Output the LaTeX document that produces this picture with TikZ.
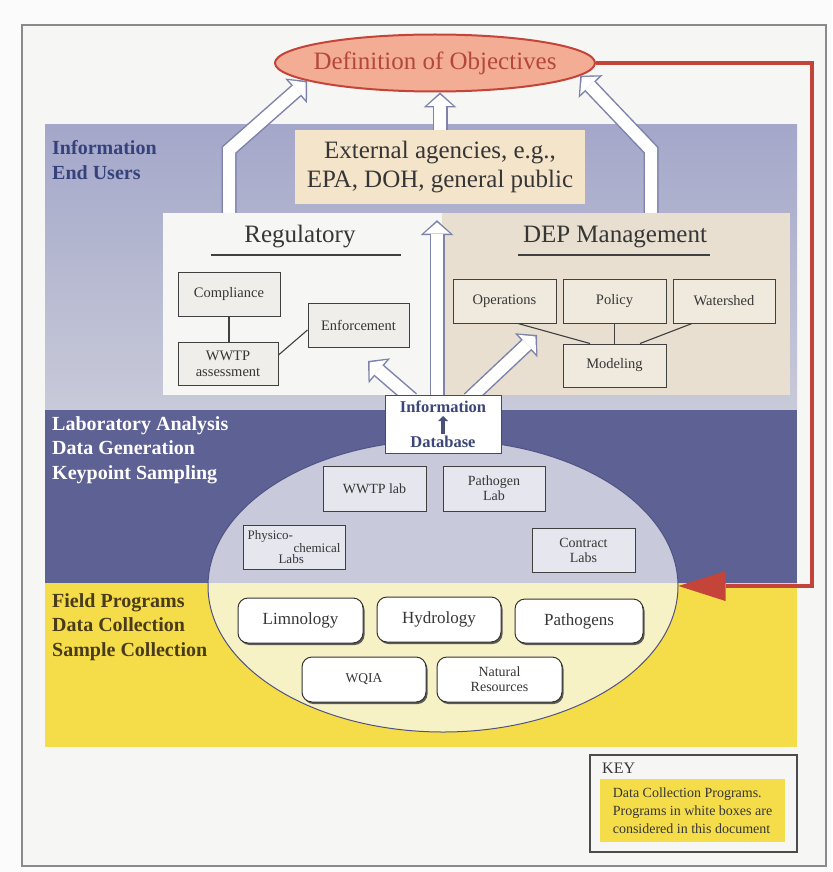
\documentclass[tikz,border=0pt]{standalone}
\usepackage{fontspec}
\setmainfont{Liberation Serif}
\usepackage{tikz}
\usetikzlibrary{shapes.geometric,arrows.meta,calc,shadows}

\definecolor{pagebg}{HTML}{FBFBFB}
\definecolor{framebg}{HTML}{F6F6F5}
\definecolor{framegray}{HTML}{8A8A8A}
\definecolor{bandtop}{HTML}{A4A7C9}
\definecolor{bandbot}{HTML}{C8CAD9}
\definecolor{labband}{HTML}{5E6193}
\definecolor{fieldband}{HTML}{F5DD4A}
\definecolor{poolblue}{HTML}{C8C9DA}
\definecolor{poolyellow}{HTML}{F7F1C6}
\definecolor{pooledge}{HTML}{4F5283}
\definecolor{regfill}{HTML}{F6F6F4}
\definecolor{depfill}{HTML}{E8DFD0}
\definecolor{extfill}{HTML}{F4E4CA}
\definecolor{regboxfill}{HTML}{EFEEEA}
\definecolor{depboxfill}{HTML}{EFE9DE}
\definecolor{labboxfill}{HTML}{E5E6EE}
\definecolor{objfill}{HTML}{F2AD94}
\definecolor{objred}{HTML}{C4443A}
\definecolor{objtext}{HTML}{B4473C}
\definecolor{arrowedge}{HTML}{7D83AB}
\definecolor{textgray}{HTML}{363636}
\definecolor{infoblue}{HTML}{3C4678}
\definecolor{endblue}{HTML}{36427C}
\definecolor{fieldbrown}{HTML}{4A3C1A}

\newcommand{\fsz}[2]{\fontsize{#1}{#2}\selectfont}
\newcommand{\blockarrow}[1]{\draw[harrowout] #1; \draw[harrowin] #1;}

\begin{document}
\begin{tikzpicture}[x=1pt, y=-1pt,
    box/.style={draw=black!75, line width=1pt, text=textgray, minimum width=102, minimum height=44, inner sep=1pt, align=center, font=\fsz{14.5}{16}},
    regbox/.style={box, fill=regboxfill},
    depbox/.style={box, fill=depboxfill},
    labbox/.style={box, fill=labboxfill, font=\fsz{14}{15}},
    prog/.style={draw=black!80, line width=1pt, fill=white, rounded corners=10pt, minimum width=124, minimum height=45, inner sep=1pt, align=center, text=textgray, font=\fsz{17}{19}, drop shadow={shadow xshift=1.5pt, shadow yshift=-2pt, fill=black!70, opacity=0.9}},
    lbl/.style={anchor=west, align=left, inner sep=0pt, font=\bfseries\fsz{20}{24.5}},
    heading/.style={text=textgray, inner sep=0pt, font=\fsz{25}{28}},
    panel/.style={inner sep=0pt, minimum height=182},
    link/.style={draw=black!75, line width=1.1pt},
    harrowout/.style={draw=arrowedge, line width=15pt, line join=miter, -{Triangle[length=15pt, width=33pt, line width=0pt]}},
    harrowin/.style={draw=white, line width=12pt, line join=miter, shorten >=2.2pt, -{Triangle[length=11.3pt, width=26pt, line width=0pt]}},
    redline/.style={draw=objred, line width=4.5pt, line join=miter, -{Triangle[length=47pt, width=30pt, line width=0pt]}}
  ]
  \useasboundingbox (0,0) rectangle (832,872);

  % page and frame
  \fill[pagebg] (0,0) rectangle (832,872);
  \draw[framegray, line width=1.5pt, fill=framebg] (22,25) rectangle (826,866);

  % horizontal bands
  \shade[top color=bandtop, bottom color=bandbot] (45,125) rectangle (797,410);
  \fill[labband] (45,410) rectangle (797,583);
  \fill[fieldband] (45,583) rectangle (797,747);

  % pool of labs and programs
  \begin{scope}
    \clip (45,410) rectangle (797,583);
    \fill[poolblue] (443,586) ellipse [x radius=235, y radius=146];
  \end{scope}
  \begin{scope}
    \clip (45,583) rectangle (797,747);
    \fill[poolyellow] (443,586) ellipse [x radius=235, y radius=146];
  \end{scope}
  \node[draw=pooledge, line width=1pt, ellipse, minimum width=470, minimum height=292, inner sep=0pt] (pool) at (443,586) {};

  % end users
  \node[panel, fill=extfill, minimum width=290, minimum height=74] (ext) at (440,167) {};
  \node[heading, align=center, font=\fsz{25}{29}] (extt) at (ext) {External agencies, e.g.,\\EPA, DOH, general public};
  \node[panel, fill=regfill, minimum width=279] (reg) at (302.5,304) {};
  \node[panel, fill=depfill, minimum width=348] (dep) at (616,304) {};

  \node[heading] (regt) at (300,237) {Regulatory};
  \draw[link] ($(regt)+(-89,18)$) -- ($(regt)+(101,18)$);
  \node[heading] (dept) at (615,237) {DEP Management};
  \draw[link] ($(dept)+(-97,18)$) -- ($(dept)+(95,18)$);

  % Regulatory
  \node[regbox] (compl) at (229,294.5) {Compliance};
  \node[regbox, minimum width=100, minimum height=43] (wwtp) at (228,363.5) {WWTP\\assessment};
  \node[regbox, minimum width=101] (enf) at (358.5,325) {Enforcement};
  \draw[link] (compl) -- (compl |- wwtp.north);
  \draw[link] ($(wwtp.east)+(0,-8.5)$) -- ($(enf.west)+(0,5)$);

  % DEP Management
  \node[depbox, minimum width=103] (ops) at (504.5,301) {Operations};
  \node[depbox, minimum width=103] (pol) at (614.5,301) {Policy};
  \node[depbox] (wsh) at (724,301) {Watershed};
  \node[depbox, minimum width=103, minimum height=43] (mod) at (614.5,365.5) {Modeling};
  \draw[link] ($(ops.south)+(13.5,0)$) -- ($(mod.north)+(-24.5,0)$);
  \draw[link] (pol) -- (mod);
  \draw[link] ($(wsh.south)+(-32,0)$) -- ($(mod.north)+(25.5,0)$);

  % Labs
  \node[labbox, minimum width=103, minimum height=45] (wwtplab) at (374.5,488.5) {WWTP lab};
  \node[labbox, minimum height=45] (pathlab) at (494,488.5) {Pathogen\\Lab};
  \node[labbox, align=left, font=\fsz{13}{11.5}] (phys) at (294,547) {Physico-\\\hspace*{46pt}chemical\\\hspace*{31pt}Labs};
  \node[labbox, minimum width=103] (contr) at (583.5,550) {Contract\\Labs};

  % Field programs
  \node[prog, minimum width=125] (limn) at (300.5,620.5) {Limnology};
  \node[prog] (hydro) at (439,619.5) {Hydrology};
  \node[prog, minimum width=128, minimum height=44] (pathg) at (579,621) {Pathogens};
  \node[prog, font=\fsz{13.5}{15}] (wqia) at (364,679.5) {WQIA};
  \node[prog, minimum width=125, font=\fsz{14}{15}] (natres) at (499.5,679.5) {Natural\\Resources};

  % band labels
  \node[lbl, text=endblue] (users) at (52,160) {Information\\End Users};
  \node[lbl, text=white] (labs) at (52,450) {Laboratory Analysis\\Data Generation\\Keypoint Sampling};
  \node[lbl, text=fieldbrown] (field) at (52,627) {Field Programs\\Data Collection\\Sample Collection};

  % objectives
  \node[ellipse, draw=objred, line width=2pt, fill=objfill, minimum width=320, minimum height=57, inner sep=0pt] (obj) at (435,63) {};
  \node[text=objtext, inner sep=0pt, font=\fsz{25}{28}] (objt) at (obj) {Definition of Objectives};

  % information flow
  \coordinate (lbend) at (229,150);
  \coordinate (rbend) at (651,150);
  \coordinate (ltip) at (368,361);
  \coordinate (rtip) at (537,335);
  \coordinate (infoc) at (443,424);
  \blockarrow{(reg.north -| lbend) -- (lbend) -- (obj.188)}
  \blockarrow{(dep.north -| rbend) -- (rbend) -- (obj.-5)}
  \blockarrow{(ext.north) -- (ext.north |- obj.south)}
  \blockarrow{($(infoc)+(-6,-25)$) -- ($(ext.south)+(-3,16)$)}
  \blockarrow{($(infoc)+(-31,-25)$) -- (ltip)}
  \blockarrow{($(infoc)+(26,-25)$) -- (rtip)}

  \node[draw=black!70, line width=1pt, fill=white, minimum width=116, minimum height=58, inner sep=0pt, align=center, text=infoblue, font=\bfseries\fsz{16.5}{35}] (info) at (infoc) {Information\\Database};
  \draw[line width=4pt, draw=infoblue!80!gray, -{Triangle[length=5pt, width=10pt, line width=0pt]}] ($(info.center)+(0,10)$) -- ($(info.center)+(0,-8)$);

  % feedback
  \draw[redline] (obj.east) -- ++(216,0) |- (pool.east);

  % key
  \node[draw=black!70, line width=1.2pt, fill=framebg, minimum width=207, minimum height=97, inner sep=0pt] (key) at (693.5,803.5) {};
  \node[anchor=west, inner sep=0pt, text=textgray, font=\fsz{16}{18}] (keyt) at (602,768) {KEY};
  \node[fill=fieldband, minimum width=185, minimum height=63, inner sep=0pt, align=left, text=textgray, font=\fsz{14}{18}] (keyn) at (692.5,810.5) {Data Collection Programs.\\Programs in white boxes are\\considered in this document};
\end{tikzpicture}
\end{document}
